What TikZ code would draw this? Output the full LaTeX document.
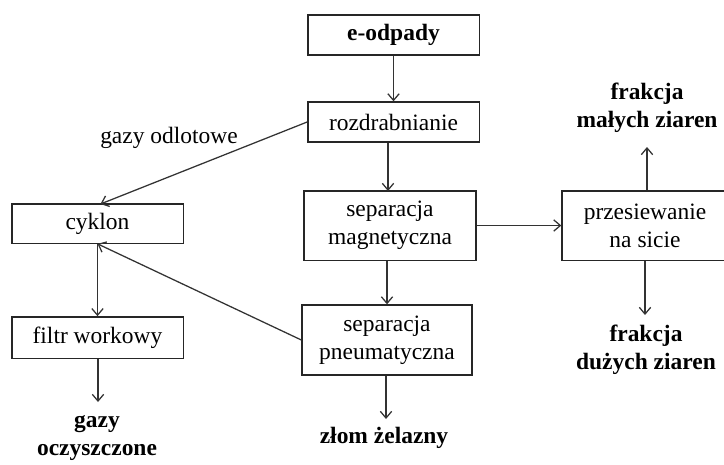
\documentclass[tikz,border=0pt]{standalone}
\usepackage{fontspec}
\setmainfont{Liberation Serif}
\usetikzlibrary{arrows.meta,calc}
\begin{document}
\begin{tikzpicture}[x=0.75pt,y=-0.75pt,
  box/.style={draw=black!85,line width=1pt,inner sep=0pt,align=center,font=\fontsize{17.6}{21}\selectfont},
  lbl/.style={inner sep=0pt,align=center,font=\fontsize{17.6}{21}\selectfont\bfseries},
  arr/.style={draw=black!80,line width=0.95pt,-{Straight Barb[length=5pt,width=8.5pt]}}]
\useasboundingbox (0,0) rectangle (724,464);
\clip (0,0) rectangle (724,464);
\node[box,minimum width=128.5pt,minimum height=30pt,font=\fontsize{17.6}{21}\selectfont\bfseries] (eod) at (393.5,35) {e-odpady};
\node[box,minimum width=128.5pt,minimum height=30pt] (rozd) at (393.5,122) {rozdrabnianie};
\node[box,minimum width=129pt,minimum height=52pt] (sepmag) at (390,225.5) {separacja\\magnetyczna};
\node[box,minimum width=124.5pt,minimum height=52pt] (przes) at (645,225.5) {przesiewanie\\na sicie};
\node[box,minimum width=127.5pt,minimum height=52.5pt] (sepp) at (387,340) {separacja\\pneumatyczna};
\node[box,minimum width=128.5pt,minimum height=29.5pt] (cyk) at (97.5,223.5) {cyklon};
\node[box,minimum width=128.5pt,minimum height=31pt] (filtr) at (97.5,337.5) {filtr workowy};
\node[lbl] (male) at (647,108) {frakcja\\małych ziaren};
\node[lbl] (duze) at (646,350) {frakcja\\dużych ziaren};
\node[lbl] (gazy) at (97,438) {gazy\\oczyszczone};
\node[lbl] (zlom) at (384,438) {złom żelazny};
\node[inner sep=0pt,font=\fontsize{17.6}{21}\selectfont] (odl) at (169,138) {gazy odlotowe};
\coordinate (maleEnd) at (647,147);
\coordinate (duzeEnd) at (645,315);
\coordinate (gazyEnd) at (98,402);
\coordinate (zlomEnd) at (386,419);
\coordinate (magIn) at (388,191);
\coordinate (cykIn) at (100.5,204);
\draw[arr] (eod.south) -- (rozd.north);
\draw[arr] (rozd.south -| magIn) -- (magIn);
\draw[arr] (sepmag.south -| sepp.north) -- (sepp.north);
\draw[arr] (sepmag.east) -- (przes.west);
\draw[arr] (przes.north -| maleEnd) -- (maleEnd);
\draw[arr] (przes.south -| duzeEnd) -- (duzeEnd);
\draw[arr] (sepp.south -| zlomEnd) -- (zlomEnd);
\draw[arr] (rozd.west) -- (cykIn);
\draw[arr] (sepp.west) -- (cyk.south);
\draw[arr] (cyk.south) -- (filtr.north);
\draw[arr] (filtr.south -| gazyEnd) -- (gazyEnd);
\end{tikzpicture}
\end{document}
